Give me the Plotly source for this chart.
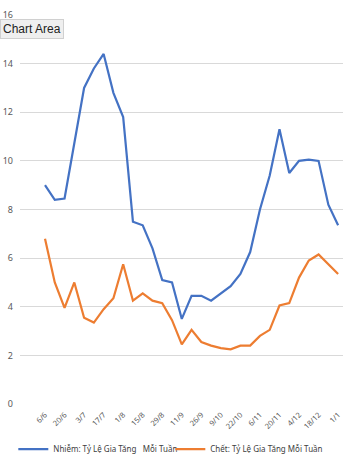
import plotly.graph_objects as go

categories = ["6/6", "13/6", "20/6", "27/6", "3/7", "10/7", "17/7", "24/7", "1/8", "8/8",
              "15/8", "22/8", "29/8", "5/9", "11/9", "19/9", "26/9", "3/10", "9/10", "16/10",
              "22/10", "29/10", "6/11", "13/11", "20/11", "27/11", "4/12", "11/12", "18/12",
              "25/12", "1/1"]
infections = [9.0, 8.4, 8.45, 10.8, 13.0, 13.8, 14.4, 12.8, 11.8, 7.5,
               7.35, 6.4, 5.1, 5.0, 3.5, 4.45, 4.45, 4.25, 4.55, 4.85,
               5.35, 6.25, 8.0, 9.4, 11.3, 9.5, 10.0, 10.05, 10.0, 8.2, 7.35]
deaths = [6.8, 5.0, 3.95, 5.0, 3.55, 3.35, 3.9, 4.35, 5.75, 4.25,
          4.55, 4.25, 4.15, 3.45, 2.45, 3.05, 2.55, 2.4, 2.3, 2.25,
          2.4, 2.4, 2.8, 3.05, 4.05, 4.15, 5.2, 5.9, 6.15, 5.75, 5.35]
tick_labels = categories[::2]
y_ticks = [0, 2, 4, 6, 8, 10, 12, 14, 16]

fig = go.Figure()
fig.add_trace(go.Scatter(x=categories, y=infections, mode="lines",
                         name="Nhiễm: Tỷ Lệ Gia Tăng   Mỗi Tuần",
                         line=dict(color="#4472C4", width=2.2)))
fig.add_trace(go.Scatter(x=categories, y=deaths, mode="lines",
                         name="Chết: Tỷ Lệ Gia Tăng Mỗi Tuần",
                         line=dict(color="#ED7D31", width=2.2)))

fig.update_layout(
    width=353, height=460,
    margin=dict(l=20, r=10, t=15, b=56, autoexpand=False),
    paper_bgcolor="white", plot_bgcolor="white",
    font=dict(family="Noto Sans", color="#595959", size=8),
    showlegend=True,
    legend=dict(orientation="h", x=-0.0207, y=-0.116, xanchor="left", yanchor="middle",
                entrywidth=112, entrywidthmode="pixels",
                font=dict(size=8, color="#404040")),
    xaxis=dict(type="category", range=[-2.56, 30.5], tickmode="array",
               tickvals=tick_labels, ticktext=tick_labels, tickangle=-45,
               showgrid=False, showline=False, zeroline=False, ticks="",
               automargin=False, ticklabelstandoff=4,
               tickfont=dict(size=7.5, color="#595959")),
    yaxis=dict(range=[0, 16], tickvals=y_ticks, showgrid=True, gridcolor="#D9D9D9",
               gridwidth=1, zeroline=False, showline=False, ticks="",
               automargin=False,
               tickfont=dict(size=9, color="#595959"), ticklabelstandoff=6),
    annotations=[dict(text="Chart Area", xref="paper", yref="paper",
                      x=-20/323, y=0.965, xanchor="left", yanchor="middle",
                      showarrow=False, bgcolor="#EFEFEF", bordercolor="#D0D0D0",
                      borderwidth=1, borderpad=2,
                      font=dict(family="Liberation Sans", size=12, color="#222222"))],
)

fig.write_html("out.html")
